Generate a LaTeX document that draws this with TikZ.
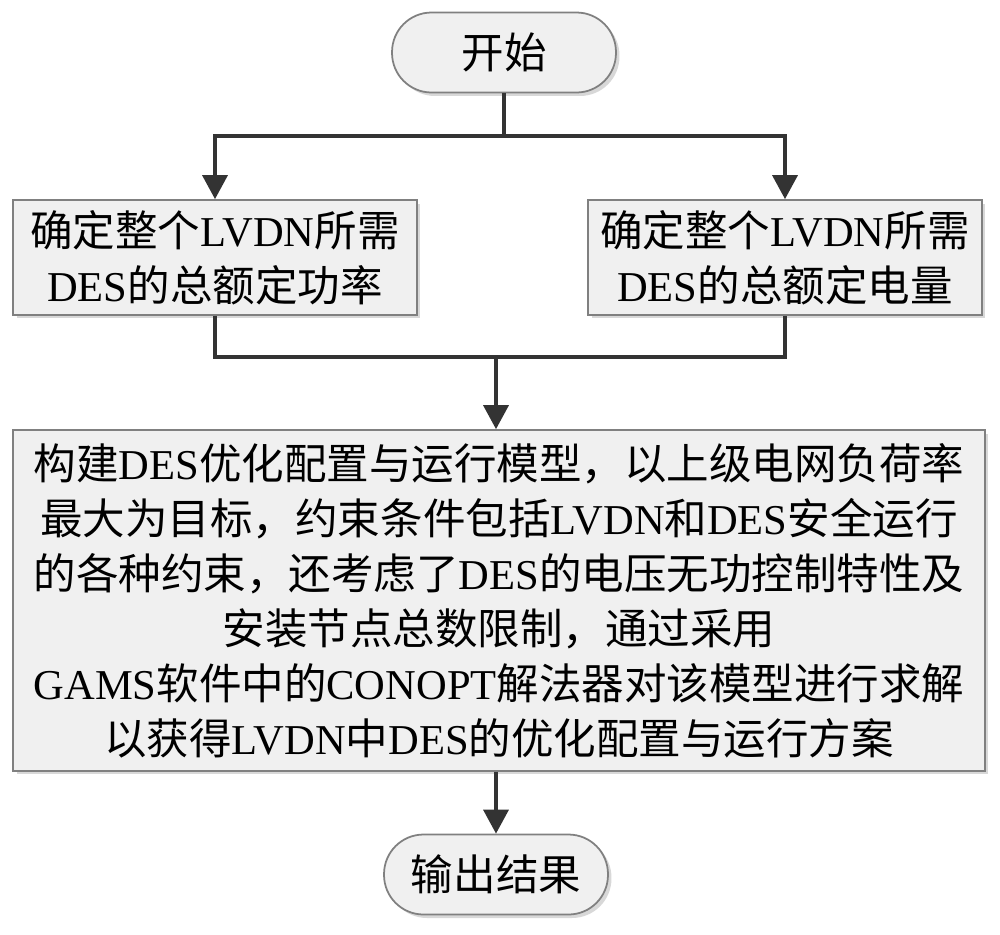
\documentclass[tikz,border=0pt]{standalone}
\usepackage{fontspec}
\setmainfont{Liberation Serif}
\newfontfamily\cjk{Noto Sans CJK SC}
\newcommand{\lat}[1]{{\rmfamily #1}}
\usetikzlibrary{arrows.meta,shadows}
\begin{document}
\begin{tikzpicture}[x=0.02cm,y=-0.02cm,
  every node/.style={font=\cjk\fontsize{24.2}{31.3}\selectfont, align=center, inner sep=0pt},
  box/.style={draw=black!50, line width=1pt, fill=black!6,
    drop shadow={shadow xshift=0.07cm, shadow yshift=-0.07cm, fill=black!30}},
  term/.style={box, rounded corners=0.79cm, minimum width=4.48cm, minimum height=1.6cm},
  line/.style={draw=black!80, line width=2pt},
  arr/.style={line, -{Triangle[width=0.5cm,length=0.48cm]}}]
\useasboundingbox (0,0) rectangle (1000,934);
\node[term] (start) at (504,52.5) {开始};
\node[box, minimum width=8.08cm, minimum height=2.3cm] (left) at (215,257.5)
  {确定整个\lat{LVDN}所需\\\lat{DES}的总额定功率};
\node[box, minimum width=7.88cm, minimum height=2.3cm] (right) at (785,257.5)
  {确定整个\lat{LVDN}所需\\\lat{DES}的总额定电量};
\node[box, minimum width=19.44cm, minimum height=6.82cm] (main) at (499,600.5)
  {构建\lat{DES}优化配置与运行模型，以上级电网负荷率\\
   最大为目标，约束条件包括\lat{LVDN}和\lat{DES}安全运行\\
   的各种约束，还考虑了\lat{DES}的电压无功控制特性及\\
   安装节点总数限制，通过采用\\
   \lat{GAMS}软件中的\lat{CONOPT}解法器对该模型进行求解\\
   以获得\lat{LVDN}中\lat{DES}的优化配置与运行方案};
\node[term] (end) at (496,874.5) {输出结果};
\coordinate (split) at (504,136);
\coordinate (join) at (496,357);
\draw[line] (start) -- (split);
\draw[arr] (split) -| (left.north);
\draw[arr] (split) -| (right.north);
\draw[line] (left.south) |- (join) -| (right.south);
\draw[arr] (join) -- (join |- main.north);
\draw[arr] (join |- main.south) -- (end.north);
\end{tikzpicture}
\end{document}
